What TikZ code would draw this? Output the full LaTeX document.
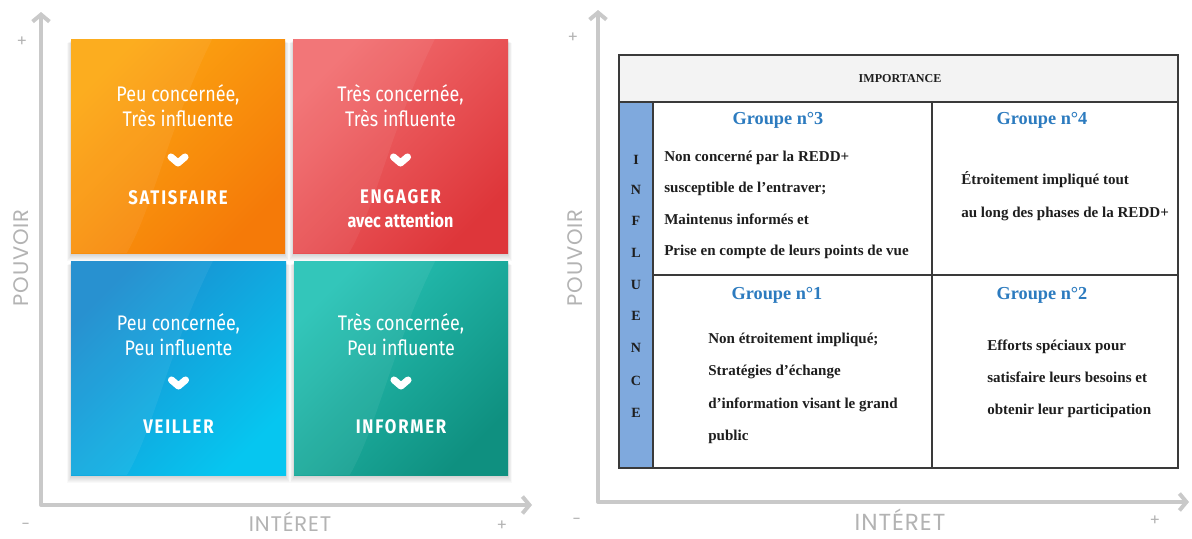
\documentclass[tikz,border=0pt]{standalone}
\usepackage{fontspec}
\setmainfont{Liberation Serif}
\newfontfamily\quadfont[FakeStretch=0.85]{Fira Sans}
\newfontfamily\axisfont[LetterSpace=4]{Poppins}
\newfontfamily\tabfont{Liberation Serif}
\usetikzlibrary{arrows.meta}

\definecolor{axisgray}{HTML}{C9C9C9}
\definecolor{labelgray}{HTML}{B3B3B3}
\definecolor{orangeA}{HTML}{FCA812}
\definecolor{orangeB}{HTML}{F57A08}
\definecolor{redA}{HTML}{F26E70}
\definecolor{redB}{HTML}{DE363A}
\definecolor{blueA}{HTML}{1B8BCE}
\definecolor{blueB}{HTML}{06C6F0}
\definecolor{tealA}{HTML}{27C3B6}
\definecolor{tealB}{HTML}{0F9080}
\definecolor{tabline}{HTML}{3A3A3A}
\definecolor{headfill}{HTML}{F3F3F3}
\definecolor{influfill}{HTML}{7FA9DD}
\definecolor{grouptitle}{HTML}{2C7BBF}
\definecolor{tabtext}{HTML}{1E1E1E}

% soft shadow under a coloured square
\newcommand\boxshadow[4]{%
  \foreach \k in {1,...,8}{%
    \fill[black, opacity=0.025] ({#1-\k*0.6+1},{#2+\k*0.5}) rectangle ({#3+\k*0.6-1},{#4+\k*1.0});
  }}
% faint glossy sweep on the left part of a square
\newcommand\gloss[4]{%
  \fill[white, opacity=0.06] (#1,#2) -- ({#1+0.66*(#3-#1)},#2)
    .. controls ({#1+0.46*(#3-#1)},{#2+0.4*(#4-#2)}) and ({#1+0.38*(#3-#1)},{#2+0.8*(#4-#2)})
    .. ({#1+0.26*(#3-#1)},#4) -- (#1,#4) -- cycle;}

\tikzset{
  axisline/.style={draw=axisgray, line width=2.8pt, line join=round,
    {Straight Barb[length=5pt,width=12pt]}-{Straight Barb[length=5pt,width=12pt]}},
  sign/.style={text=labelgray, font=\axisfont\fontsize{11}{11}\selectfont, inner sep=0pt},
  axislabel/.style={text=labelgray, font=\axisfont\fontsize{15}{15}\selectfont, inner sep=0pt},
  quadtext/.style={text=white, align=center, inner sep=0pt,
    font=\quadfont\fontsize{15}{17.8}\selectfont},
  action/.style={text=white, inner sep=0pt,
    font=\quadfont\bfseries\addfontfeatures{LetterSpace=9}\fontsize{14}{14}\selectfont},
  subaction/.style={text=white, inner sep=0pt,
    font=\quadfont\bfseries\fontsize{13.5}{14}\selectfont},
  chevron/.style={draw=white, line width=5pt, line cap=round, line join=round},
  tabrule/.style={draw=tabline, line width=1.3pt},
  headtext/.style={text=tabtext, inner sep=0pt, font=\tabfont\bfseries\fontsize{8.6}{9}\selectfont},
  influtext/.style={text=tabtext, inner sep=0pt, font=\tabfont\bfseries\fontsize{10}{10}\selectfont},
  grouptext/.style={text=grouptitle, inner sep=0pt, font=\tabfont\bfseries\fontsize{13}{14}\selectfont},
  celltext/.style={text=tabtext, inner sep=0pt, align=left, anchor=west,
    font=\tabfont\bfseries\fontsize{10.7}{#1}\selectfont},
}

\begin{document}
\begin{tikzpicture}[x=0.025cm, y=-0.025cm]
\fill[white] (0,0) rectangle (1192,539);
\useasboundingbox (0,0) rectangle (1192,539);

% ---------------- left panel: power / interest grid ----------------
\coordinate (ltop) at (41,12);
\coordinate (lorig) at (41,505);
\coordinate (lright) at (532,505);
\draw[axisline] (ltop) -- (lorig) -- (lright);
\node[sign] (lplus) at (22,42) {+};
\node[sign] (lminus) at (26,526) {-};
\node[sign] (lplusx) at (502,526) {+};
\node[axislabel, rotate=90] (lpouvoir) at (21,258) {POUVOIR};
\node[axislabel] (linteret) at (290,522) {INTÉRET};

\boxshadow{71}{39}{285}{253}
\boxshadow{293}{39}{508}{253}
\boxshadow{71}{261}{286}{475}
\boxshadow{294}{261}{508}{475}

\fill[top color=orangeA, bottom color=orangeB, shading angle=45] (71,39) rectangle (285,253);
\fill[top color=redA, bottom color=redB, shading angle=45] (293,39) rectangle (508,253);
\fill[top color=blueA, bottom color=blueB, shading angle=45] (71,261) rectangle (286,475);
\fill[top color=tealA, bottom color=tealB, shading angle=45] (294,261) rectangle (508,475);
\gloss{71}{39}{285}{253}
\gloss{293}{39}{508}{253}
\gloss{71}{261}{286}{475}
\gloss{294}{261}{508}{475}

% top left: satisfaire
\node[quadtext] (satdesc) at (178,105.5) {Peu concernée,\\Très influente};
\draw[chevron] (171,157) -- (178,163) -- (185,157);
\node[action] (sat) at (178,198) {SATISFAIRE};
% top right: engager
\node[quadtext] (engdesc) at (400.5,105.5) {Très concernée,\\Très influente};
\draw[chevron] (393.5,157) -- (400.5,163) -- (407.5,157);
\node[action] (eng) at (400.5,197) {ENGAGER};
\node[subaction] (engsub) at (400.5,220) {avec attention};
% bottom left: veiller
\node[quadtext] (veidesc) at (178.5,334.5) {Peu concernée,\\Peu influente};
\draw[chevron] (171.5,380) -- (178.5,386) -- (185.5,380);
\node[action] (vei) at (178.5,427) {VEILLER};
% bottom right: informer
\node[quadtext] (infdesc) at (401,334.5) {Très concernée,\\Peu influente};
\draw[chevron] (394,380) -- (401,386) -- (408,380);
\node[action] (inf) at (401,427) {INFORMER};

% ---------------- right panel: stakeholder table ----------------
\coordinate (rtop) at (598,10);
\coordinate (rorig) at (598,502);
\coordinate (rright) at (1189,502);
\draw[axisline] (rtop) -- (rorig) -- (rright);
\node[sign] (rplus) at (573,38) {+};
\node[sign] (rminus) at (577,521) {-};
\node[sign] (rplusx) at (1155,521) {+};
\node[axislabel, rotate=90] (rpouvoir) at (575,258) {POUVOIR};
\node[axislabel, font=\axisfont\fontsize{16.5}{16}\selectfont] (rinteret) at (900,520) {INTÉRET};

\fill[headfill] (619,55) rectangle (1178,102);
\fill[influfill] (619,102) rectangle (653,468);
\draw[tabrule] (619,55) rectangle (1178,468);
\draw[tabrule] (619,102) -- (1178,102);
\draw[tabrule] (653,102) -- (653,468);
\draw[tabrule] (932,102) -- (932,468);
\draw[tabrule] (653,275) -- (1178,275);

\node[headtext] (importance) at (900,79) {IMPORTANCE};

\foreach \ch/\yy [count=\i] in {I/160,N/190,F/221,L/253,U/285,E/316,N/348,C/381,E/413}
  \node[influtext] (influ\i) at (636,\yy) {\ch};

\node[grouptext] (g3) at (778,120) {Groupe n°3};
\node[grouptext] (g4) at (1042,120) {Groupe n°4};
\node[grouptext] (g1) at (777,295) {Groupe n°1};
\node[grouptext] (g2) at (1042,295) {Groupe n°2};

\node[celltext=22.3] (t3) at (664,205) {Non concerné par la REDD+\\susceptible de l’entraver;\\Maintenus informés et\\Prise en compte de leurs points de vue};
\node[celltext=23.5] (t4) at (961,196.5) {Étroitement impliqué tout\\au long des phases de la REDD+};
\node[celltext=23] (t1) at (708,388.5) {Non étroitement impliqué;\\Stratégies d’échange\\d’information visant le grand\\public};
\node[celltext=22.8] (t2) at (987,379) {Efforts spéciaux pour\\satisfaire leurs besoins et\\obtenir leur participation};
\end{tikzpicture}
\end{document}
